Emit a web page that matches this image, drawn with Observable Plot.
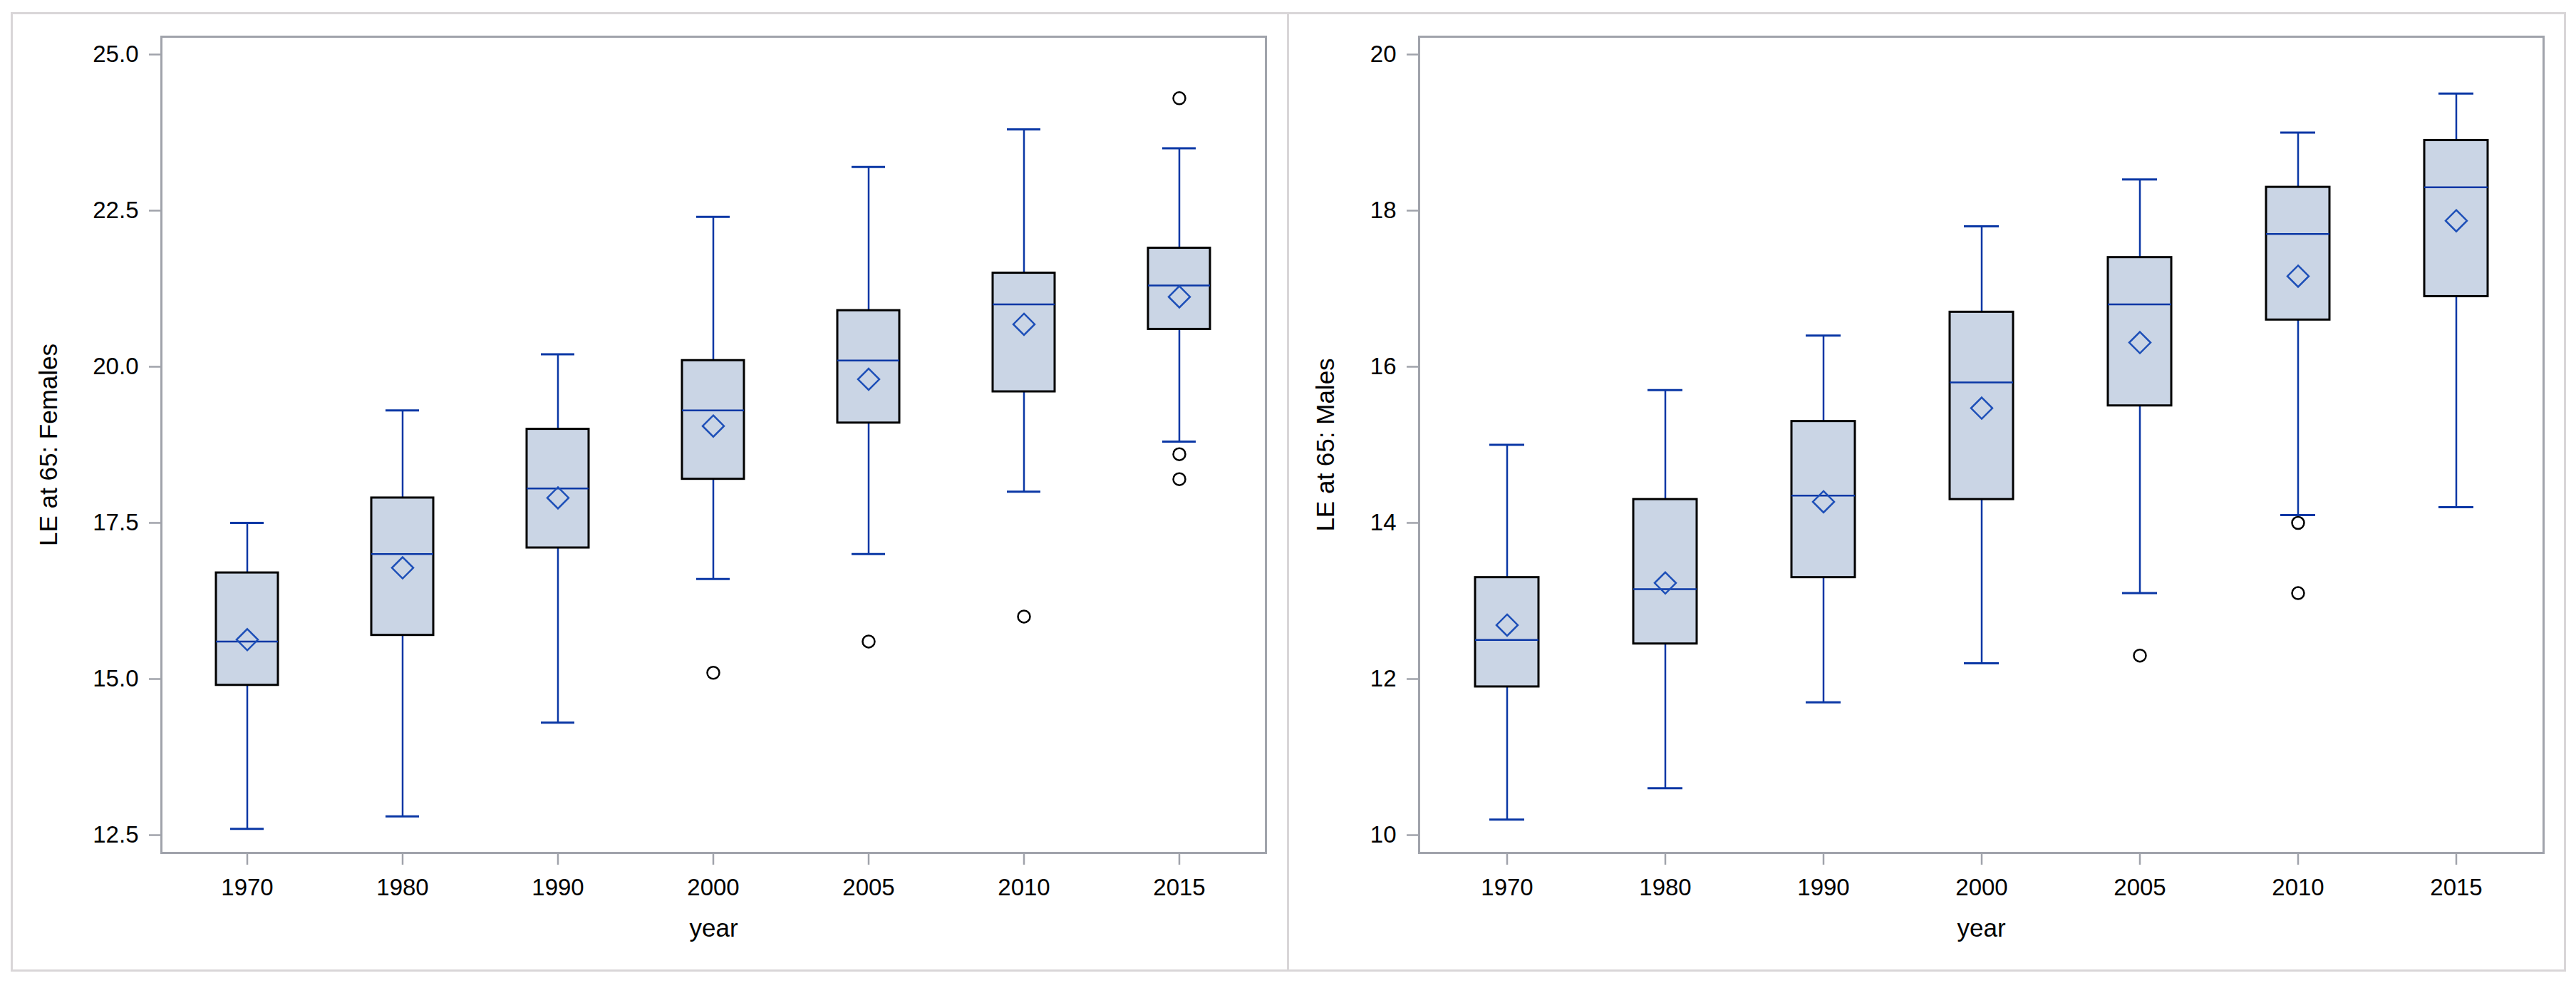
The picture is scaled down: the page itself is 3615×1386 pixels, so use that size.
<!DOCTYPE html>
<html>
<head>
<meta charset="utf-8">
<script src="https://cdn.jsdelivr.net/npm/d3@7"></script>
<script src="https://cdn.jsdelivr.net/npm/@observablehq/plot@0.6"></script>
<style>
  html, body { margin: 0; padding: 0; background: #ffffff; }
  body { width: 3615px; height: 1386px; position: relative; overflow: hidden; font-family: "Liberation Sans", Arial, sans-serif; }
  .panel { position: absolute; box-sizing: border-box; border: 3px solid #D9D6D8; }
  .chart { position: absolute; }
</style>
</head>
<body>
<div class="panel" style="left:15px;top:17px;width:1794px;height:1346px"></div>
<div class="panel" style="left:1806px;top:17px;width:1795px;height:1346px"></div>
<div id="c1" class="chart" style="left:18px;top:21px"></div>
<div id="c2" class="chart" style="left:1810px;top:21px"></div>
<script>
// ---- categories ----
const years = ["1970", "1980", "1990", "2000", "2005", "2010", "2015"];

// ---- Females: LE at 65 ----
const femaleLow    = [12.6, 12.8, 14.3, 16.6, 17.0, 18.0, 18.8];
const femaleQ1     = [14.9, 15.7, 17.1, 18.2, 19.1, 19.6, 20.6];
const femaleMedian = [15.6, 17.0, 18.05, 19.3, 20.1, 21.0, 21.3];
const femaleQ3     = [16.7, 17.9, 19.0, 20.1, 20.9, 21.5, 21.9];
const femaleHigh   = [17.5, 19.3, 20.2, 22.4, 23.2, 23.8, 23.5];
const femaleMean   = [15.63, 16.78, 17.9, 19.05, 19.8, 20.68, 21.12];
const femaleOutlierYears  = ["2000", "2005", "2010", "2015", "2015", "2015"];
const femaleOutlierValues = [15.1, 15.6, 16.0, 24.3, 18.6, 18.2];
const femaleTicks = [12.5, 15, 17.5, 20, 22.5, 25];

// ---- Males: LE at 65 ----
const maleLow    = [10.2, 10.6, 11.7, 12.2, 13.1, 14.1, 14.2];
const maleQ1     = [11.9, 12.45, 13.3, 14.3, 15.5, 16.6, 16.9];
const maleMedian = [12.5, 13.15, 14.35, 15.8, 16.8, 17.7, 18.3];
const maleQ3     = [13.3, 14.3, 15.3, 16.7, 17.4, 18.3, 18.9];
const maleHigh   = [15.0, 15.7, 16.4, 17.8, 18.4, 19.0, 19.5];
const maleMean   = [12.69, 13.23, 14.27, 15.47, 16.31, 17.16, 17.87];
const maleOutlierYears  = ["2005", "2010", "2010"];
const maleOutlierValues = [12.3, 14.0, 13.1];
const maleTicks = [10, 12, 14, 16, 18, 20];

const BLUE = "#0A37A5";
const MEAN_BLUE = "#1D4FB8";
const FILL = "#CAD5E5";
const FRAME = "#A0A3AB";
const FONT = "'Liberation Sans', Arial, sans-serif";

function boxChart(o) {
  const rows = years.map((y, i) => ({
    year: y, lo: o.lo[i], q1: o.q1[i], med: o.med[i], q3: o.q3[i], hi: o.hi[i], mean: o.mean[i]
  }));
  const outs = o.outYears.map((y, i) => ({year: y, value: o.outValues[i]}));
  return Plot.plot({
    width: o.width,
    height: 1337,
    marginLeft: o.marginLeft,
    marginRight: 27,
    marginTop: 30,
    marginBottom: 162,
    style: {background: "transparent", fontFamily: FONT, fontSize: "33px", color: "black", overflow: "visible"},
    x: {type: "band", domain: years, paddingInner: 0.6, paddingOuter: 0.35, label: null},
    y: {domain: o.domain, label: null},
    marks: [
      Plot.ruleX(rows, {x: "year", y1: "lo", y2: "hi", stroke: BLUE, strokeWidth: 2.5}),
      Plot.tickY(rows, {x: "year", y: "lo", stroke: BLUE, strokeWidth: 3, insetLeft: 20, insetRight: 20}),
      Plot.tickY(rows, {x: "year", y: "hi", stroke: BLUE, strokeWidth: 3, insetLeft: 20, insetRight: 20}),
      Plot.barY(rows, {x: "year", y1: "q1", y2: "q3", fill: FILL, stroke: "black", strokeWidth: 3}),
      Plot.tickY(rows, {x: "year", y: "med", stroke: BLUE, strokeWidth: 2.5}),
      Plot.dot(rows, {x: "year", y: "mean", symbol: "diamond2", r: 13.5, stroke: MEAN_BLUE, strokeWidth: 2.5, fill: "none"}),
      Plot.dot(outs, {x: "year", y: "value", symbol: "circle", r: 8.5, stroke: "black", strokeWidth: 2.5, fill: "none"}),
      Plot.frame({stroke: FRAME, strokeWidth: 3}),
      Plot.axisY({ticks: o.ticks, tickFormat: o.fmt, tickSize: 17, tickPadding: 15, stroke: FRAME, strokeWidth: 2.5, fill: "black", fontSize: 33, label: null}),
      Plot.axisX({tickSize: 17, tickPadding: 19, stroke: FRAME, strokeWidth: 2.5, fill: "black", fontSize: 33, label: null}),
      Plot.text([o.ylabel], {text: d => d, frameAnchor: "left", dx: o.labelDx, rotate: -90, fontSize: 35, fill: "black", textAnchor: "middle", lineAnchor: "middle"}),
      Plot.text(["year"], {text: d => d, frameAnchor: "bottom", dy: 106, fontSize: 35, fill: "black", textAnchor: "middle", lineAnchor: "middle"})
    ]
  });
}

document.getElementById("c1").appendChild(boxChart({
  width: 1785, marginLeft: 208, labelDx: -158,
  lo: femaleLow, q1: femaleQ1, med: femaleMedian, q3: femaleQ3, hi: femaleHigh, mean: femaleMean,
  outYears: femaleOutlierYears, outValues: femaleOutlierValues,
  ticks: femaleTicks, fmt: d3.format(".1f"), domain: [12.215, 25.285],
  ylabel: "LE at 65: Females"
}));

document.getElementById("c2").appendChild(boxChart({
  width: 1786, marginLeft: 181, labelDx: -131,
  lo: maleLow, q1: maleQ1, med: maleMedian, q3: maleQ3, hi: maleHigh, mean: maleMean,
  outYears: maleOutlierYears, outValues: maleOutlierValues,
  ticks: maleTicks, fmt: d3.format("d"), domain: [9.772, 20.228],
  ylabel: "LE at 65: Males"
}));
</script>
</body>
</html>
